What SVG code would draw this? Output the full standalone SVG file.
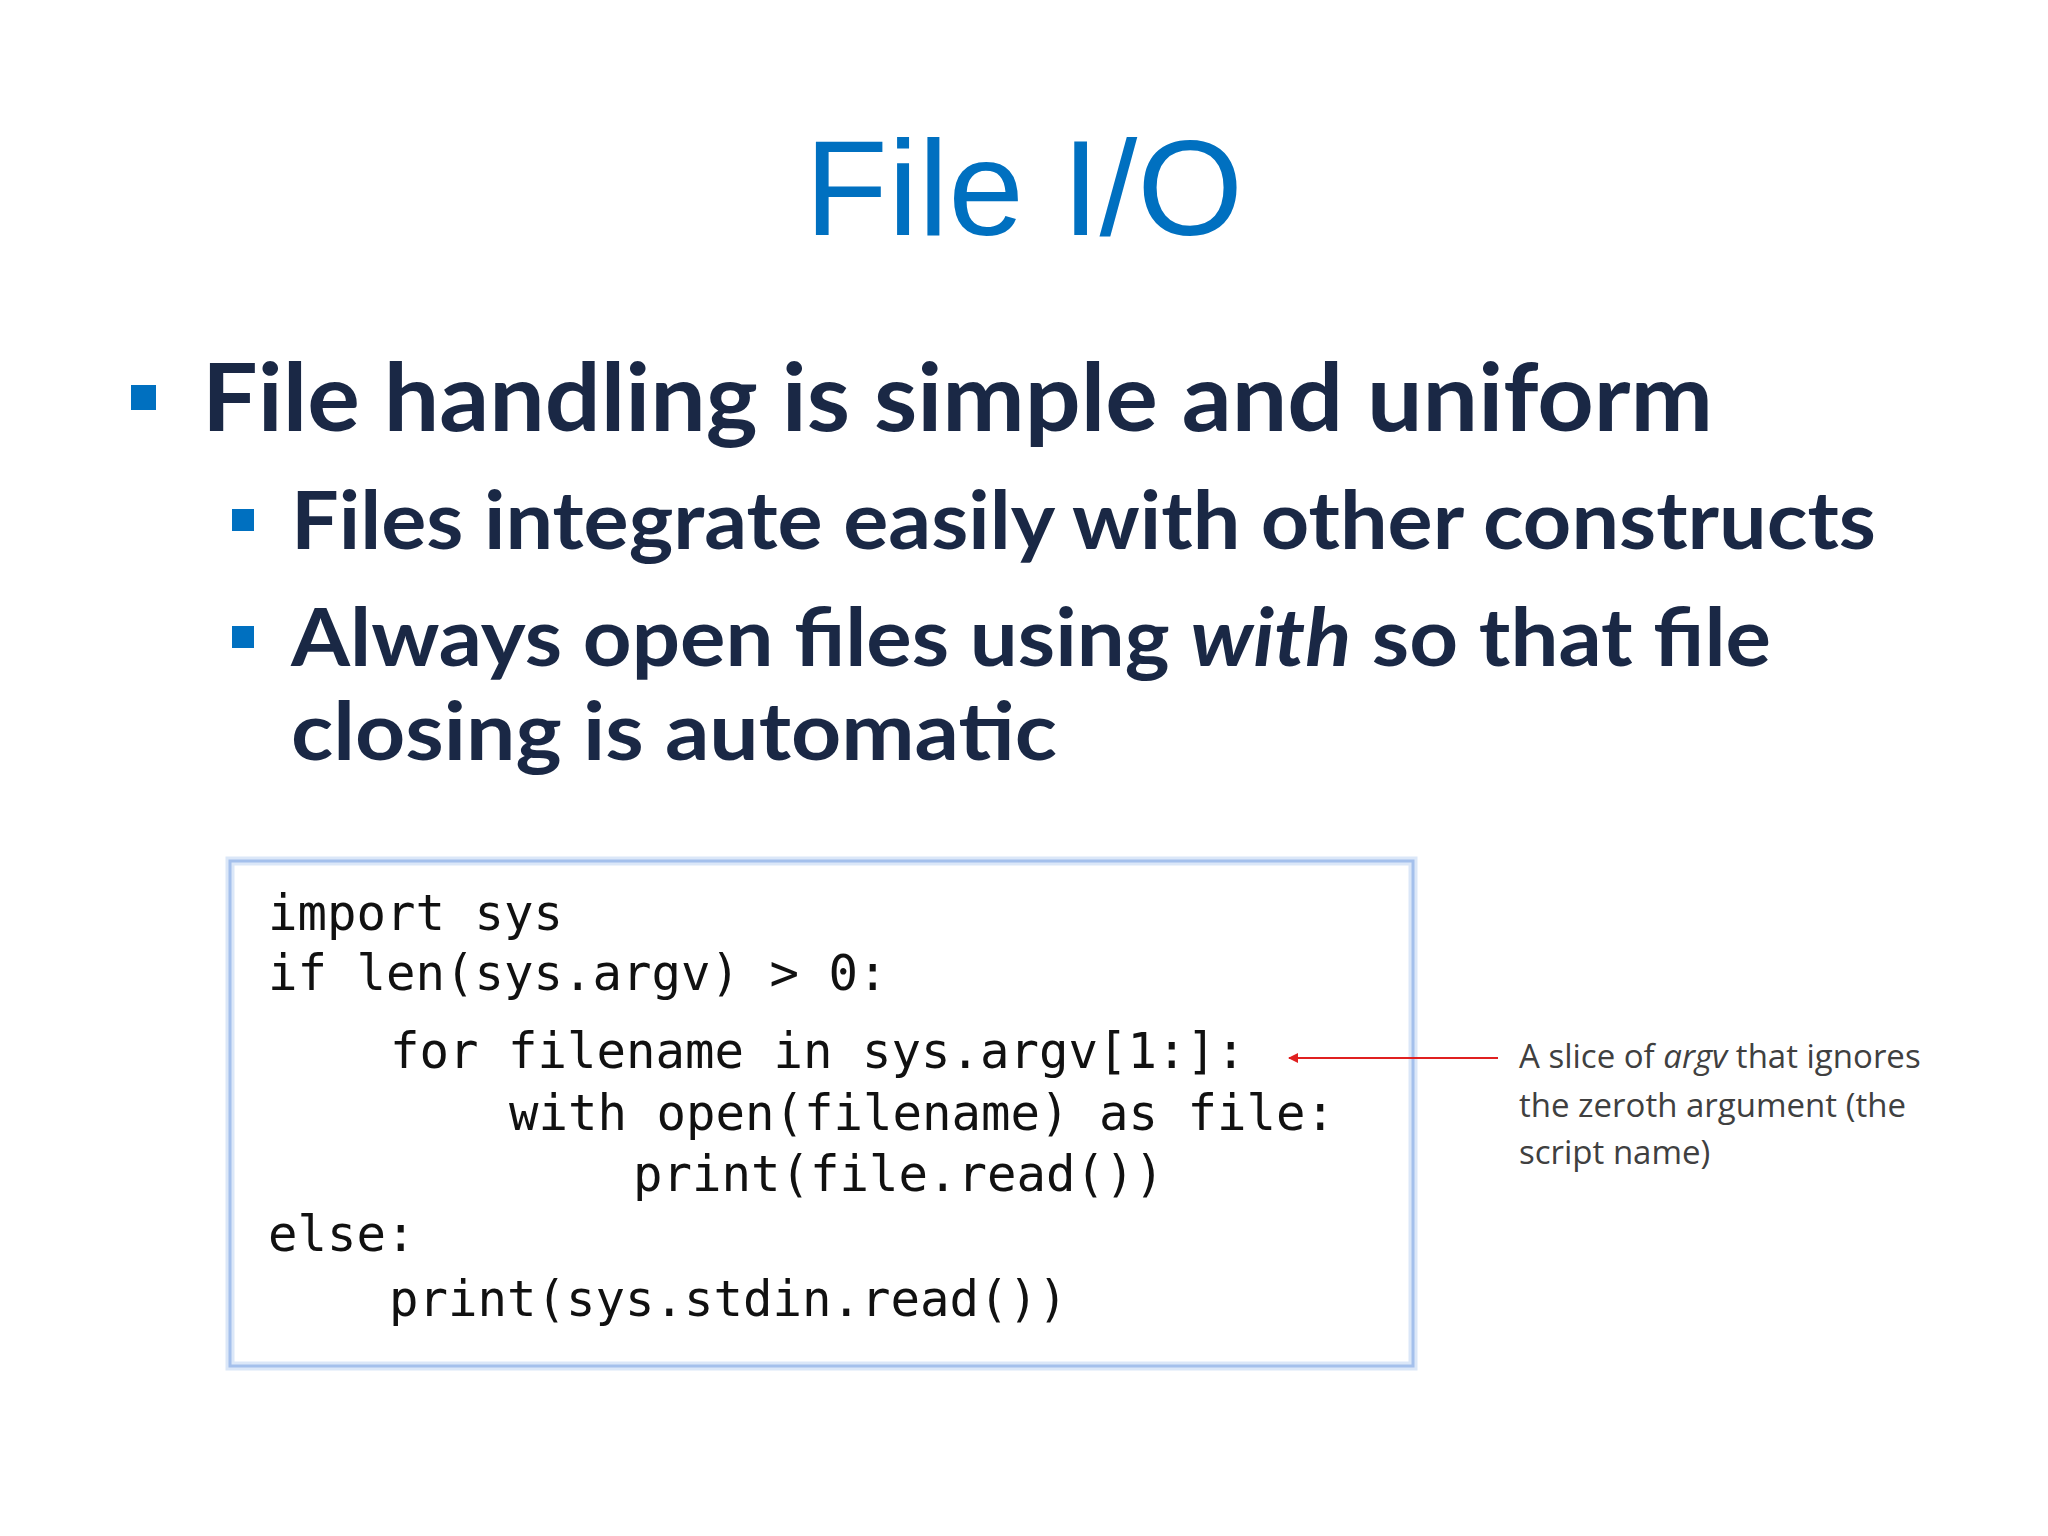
<svg xmlns="http://www.w3.org/2000/svg" width="2048" height="1536" viewBox="0 0 2048 1536">
<style>
.b{font-family:"Lato","Liberation Sans",sans-serif;font-weight:bold;fill:#1a2845}
.c{font-family:"DejaVu Sans Mono","Liberation Mono",monospace;font-size:49px;fill:#111}
.n{font-family:"Open Sans","Liberation Sans",sans-serif;font-size:33px;fill:#404040}
.sq{fill:#0070C0}
</style>
<defs>
<marker id="ah" markerWidth="10" markerHeight="10" refX="9" refY="5" orient="auto" markerUnits="userSpaceOnUse"><path d="M0,0 L10,5 L0,10 z" fill="#e02020"/></marker>
</defs>
<rect width="2048" height="1536" fill="#fff"/>
<g id="title"><text x="1024" y="235" text-anchor="middle" font-family="'Liberation Sans',sans-serif" font-size="136" fill="#0070C0">File I/O</text></g>
<g id="bullets">
<rect class="sq" x="131" y="385" width="25" height="25"/>
<text class="b" x="202" y="431" font-size="94" textLength="1511" lengthAdjust="spacingAndGlyphs">File handling is simple and uniform</text>
<rect class="sq" x="232" y="509" width="22" height="22"/>
<text class="b" x="291" y="549" font-size="80" textLength="1585" lengthAdjust="spacingAndGlyphs">Files integrate easily with other constructs</text>
<rect class="sq" x="232" y="626" width="22" height="22"/>
<text class="b" x="291" y="666" font-size="80" textLength="1480" lengthAdjust="spacingAndGlyphs">Always open files using <tspan font-style="italic">with</tspan> so that file</text>
<text class="b" x="291" y="760" font-size="80" textLength="766" lengthAdjust="spacingAndGlyphs">closing is automatic</text>
</g>
<g id="code">
<rect x="230" y="861" width="1183" height="505" fill="#fff" stroke="#dbe7f8" stroke-width="9"/>
<rect x="230" y="861" width="1183" height="505" fill="none" stroke="#a4c0ec" stroke-width="3"/>
<text class="c" x="268" y="930">import sys</text>
<text class="c" x="268" y="990">if len(sys.argv) &gt; 0:</text>
<text class="c" x="390" y="1068">for filename in sys.argv[1:]:</text>
<text class="c" x="509" y="1130">with open(filename) as file:</text>
<text class="c" x="633" y="1191">print(file.read())</text>
<text class="c" x="268" y="1251">else:</text>
<text class="c" x="389" y="1316">print(sys.stdin.read())</text>
</g>
<g id="connectors"><line x1="1498" y1="1058" x2="1289" y2="1058" stroke="#e02020" stroke-width="2" marker-end="url(#ah)"/></g>
<g id="note">
<text class="n" x="1519" y="1068">A slice of <tspan font-style="italic">argv</tspan> that ignores</text>
<text class="n" x="1519" y="1117">the zeroth argument (the</text>
<text class="n" x="1519" y="1164">script name)</text>
</g>
</svg>
